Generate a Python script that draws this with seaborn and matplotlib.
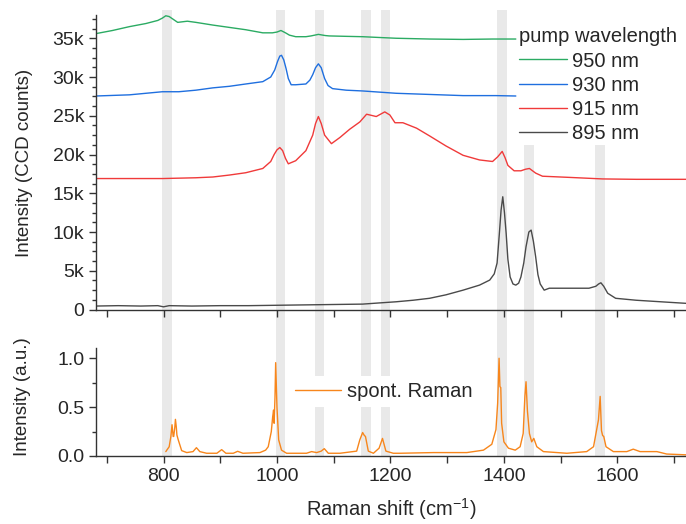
import pandas as pd
import seaborn as sns
import matplotlib.pyplot as plt
from matplotlib.ticker import MultipleLocator, FuncFormatter

# Raman shift (cm-1) / intensity (counts)
x_950 = [681, 710, 740, 769, 790, 798, 804, 810, 818, 825, 842, 857, 887, 916, 945, 975, 992, 1000,
         1007, 1015, 1022, 1033, 1051, 1060, 1073, 1085, 1092, 1120, 1151, 1180, 1210, 1269, 1328, 1380, 1421]
y_950 = [35.6, 36.0, 36.5, 36.9, 37.3, 37.6, 37.9, 37.8, 37.4, 37.05, 37.2, 37.05, 36.7, 36.4, 36.1, 35.7, 35.7, 35.8,
         36.0, 35.7, 35.4, 35.2, 35.2, 35.3, 35.5, 35.35, 35.3, 35.25, 35.2, 35.1, 35.0, 34.9, 34.85, 34.9, 34.9]

x_930 = [681, 740, 798, 827, 857, 887, 916, 945, 975, 989, 996, 1001, 1005, 1008, 1012, 1016, 1020, 1025,
         1033, 1051, 1058, 1063, 1068, 1073, 1078, 1084, 1090, 1098, 1122, 1151, 1210, 1269, 1328, 1386, 1421]
y_930 = [27.55, 27.7, 28.1, 28.1, 28.3, 28.6, 28.8, 29.1, 29.4, 30.0, 30.9, 32.0, 32.7, 32.8, 32.2, 31.1, 29.8, 29.0,
         29.0, 29.1, 29.6, 30.3, 31.2, 31.7, 31.2, 29.8, 28.9, 28.5, 28.3, 28.2, 27.9, 27.75, 27.6, 27.6, 27.55]

x_915 = [681, 740, 798, 857, 887, 916, 945, 975, 989, 995, 1000, 1005, 1010, 1015, 1020, 1033, 1051, 1063,
         1068, 1073, 1078, 1084, 1096, 1111, 1128, 1146, 1158, 1175, 1190, 1199, 1208, 1222, 1246, 1269,
         1298, 1328, 1357, 1380, 1389, 1397, 1402, 1407, 1418, 1430, 1438, 1445, 1456, 1468, 1515, 1574, 1633, 1721]
y_915 = [16.9, 16.9, 16.9, 17.0, 17.1, 17.35, 17.65, 18.2, 19.1, 20.0, 20.6, 20.9, 20.5, 19.5, 18.8, 19.2, 20.5, 22.5,
         24.0, 24.9, 24.0, 22.5, 21.4, 22.2, 23.25, 24.2, 25.2, 24.9, 25.5, 25.1, 24.1, 24.1, 23.4, 22.4,
         21.1, 19.9, 19.3, 19.1, 19.7, 20.4, 19.6, 18.6, 17.9, 17.9, 18.1, 18.2, 17.6, 17.2, 17.05, 16.85, 16.8, 16.8]

x_895 = [681, 720, 760, 790, 800, 810, 850, 900, 950, 1000, 1050, 1100, 1151, 1180, 1210, 1240, 1269, 1298,
         1328, 1357, 1375, 1383, 1388, 1392, 1395, 1398, 1401, 1404, 1407, 1411, 1416, 1421, 1426, 1430,
         1435, 1439, 1444, 1448, 1452, 1456, 1460, 1464, 1471, 1480, 1515, 1550, 1562, 1567, 1571, 1576,
         1583, 1597, 1633, 1692, 1721]
y_895 = [0.45, 0.5, 0.45, 0.5, 0.35, 0.5, 0.45, 0.5, 0.5, 0.55, 0.6, 0.65, 0.7, 0.85, 1.0, 1.2, 1.45, 1.9,
         2.5, 3.15, 3.8, 4.6, 6.0, 9.8, 12.8, 14.55, 12.5, 9.8, 6.5, 4.2, 3.3, 3.15, 3.4, 4.2,
         6.0, 8.1, 10.0, 10.25, 8.8, 6.8, 4.5, 3.3, 2.5, 2.75, 2.75, 2.75, 3.0, 3.3, 3.45, 3.0,
         2.1, 1.45, 1.2, 0.93, 0.8]

x_spont = [804, 810, 813, 815, 817, 818, 820, 821, 822.5, 823.6, 826, 832, 841, 852, 858, 864, 876, 894,
           902.5, 910, 923, 930.7, 940, 970, 980, 984.6, 990, 992.4, 994, 995, 996.5, 997.7, 1000, 1003,
           1008, 1017, 1052, 1061, 1070, 1078, 1083.4, 1090.5, 1111, 1140.5, 1146, 1151, 1154, 1156, 1161,
           1170, 1180, 1186, 1192, 1205, 1217, 1276, 1334.6, 1364, 1378.7, 1386, 1389, 1391.5, 1393, 1394.5,
           1396, 1400, 1408, 1420, 1428.6, 1434, 1437, 1439, 1441.5, 1445, 1449, 1452.7, 1458, 1469.7, 1511,
           1546, 1558, 1566.7, 1569.7, 1572, 1574, 1576, 1580, 1593, 1616.7, 1628, 1640, 1669.7, 1687, 1721]
y_spont = [0.045, 0.095, 0.2, 0.32, 0.2, 0.2, 0.3, 0.375, 0.3, 0.215, 0.165, 0.055, 0.035, 0.045, 0.085, 0.045, 0.028, 0.028,
           0.065, 0.028, 0.028, 0.048, 0.028, 0.035, 0.06, 0.095, 0.25, 0.4, 0.47, 0.335, 0.6, 0.955, 0.5, 0.165,
           0.06, 0.028, 0.028, 0.045, 0.035, 0.05, 0.075, 0.028, 0.028, 0.05, 0.165, 0.24, 0.21, 0.2, 0.05,
           0.028, 0.08, 0.18, 0.05, 0.028, 0.028, 0.035, 0.035, 0.06, 0.12, 0.27, 0.54, 1.0, 0.71, 0.7,
           0.335, 0.145, 0.08, 0.06, 0.095, 0.23, 0.61, 0.76, 0.46, 0.23, 0.145, 0.18, 0.095, 0.045, 0.028,
           0.045, 0.095, 0.37, 0.61, 0.26, 0.21, 0.2, 0.095, 0.045, 0.045, 0.07, 0.045, 0.045, 0.02, 0.012]

# gray marker bands (centre positions, cm-1)
bands = [806, 1006, 1075, 1157, 1191, 1397, 1444, 1569]

labels = ['950 nm', '930 nm', '915 nm', '895 nm']
colors = ['#2bab63', '#1f6fdf', '#f03a3a', '#4a4a4a']

sns.set_style('ticks')
plt.rcParams['font.family'] = ['Liberation Sans', 'DejaVu Sans']
plt.rcParams['mathtext.fontset'] = 'custom'
plt.rcParams['mathtext.rm'] = 'Liberation Sans'
plt.rcParams['axes.edgecolor'] = '#333333'
plt.rcParams['axes.linewidth'] = 1.0

fig = plt.figure(figsize=(6.86, 5.24), dpi=100)
ax1 = fig.add_axes([96 / 686, 214 / 524, 590 / 686, 295 / 524])
ax2 = fig.add_axes([96 / 686, 68 / 524, 590 / 686, 108 / 524])

# one frame per series
series = [(x_950, y_950), (x_930, y_930), (x_915, y_915), (x_895, y_895)]
for (xs, ys), lab, col in zip(series, labels, colors):
    df = pd.DataFrame({'shift': xs, 'counts': [v * 1000 for v in ys]})
    sns.lineplot(data=df, x='shift', y='counts', ax=ax1, color=col, lw=1.0, label=lab)

df_sp = pd.DataFrame({'shift': x_spont, 'intensity': y_spont})
sns.lineplot(data=df_sp, x='shift', y='intensity', ax=ax2, color='#f7861c', lw=1.0, label='spont. Raman')

# bands run through both panels and the gap between them
for c in bands:
    top = 0.559 if c > 1420 else 1.017
    ax1.axvspan(c - 8.5, c + 8.5, ymin=-0.129, ymax=top, color='#e9e9e9', lw=0, zorder=0, clip_on=False)
    ax2.axvspan(c - 8.5, c + 8.5, ymin=0, ymax=1, color='#e9e9e9', lw=0, zorder=0)

for ax in (ax1, ax2):
    ax.set_xlim(681, 1721)
    ax.xaxis.set_major_locator(MultipleLocator(200))
    ax.xaxis.set_minor_locator(MultipleLocator(100))
    ax.tick_params(axis='both', which='major', direction='out', length=5, width=1, labelsize=14, color='#333333')
    ax.tick_params(axis='both', which='minor', direction='out', length=3, width=1, color='#333333')
    ax.tick_params(axis='x', which='minor', length=5)
    sns.despine(ax=ax)
    ax.set_facecolor('none')

ax1.set_ylim(-60, 38000)
ax1.yaxis.set_major_locator(MultipleLocator(5000))
ax1.yaxis.set_minor_locator(MultipleLocator(1250))
ax1.yaxis.set_major_formatter(FuncFormatter(lambda v, p: '0' if v == 0 else f'{int(v / 1000)}k'))
ax1.tick_params(axis='x', labelbottom=False)
ax1.set_xlabel('')
ax1.set_ylabel('Intensity (CCD counts)', fontsize=13.5)
ax1.yaxis.set_label_coords(-0.107, 0.5)

ax2.set_ylim(0, 1.105)
ax2.yaxis.set_major_locator(MultipleLocator(0.5))
ax2.yaxis.set_minor_locator(MultipleLocator(0.25))
ax2.yaxis.set_major_formatter(FuncFormatter(lambda v, p: f'{v:.1f}'))
ax2.set_ylabel('Intensity (a.u.)', fontsize=13.5)
ax2.yaxis.set_label_coords(-0.110, 0.55)
ax2.set_xlabel('Raman shift (cm$^{\\mathregular{-1}}$)', fontsize=14.5, labelpad=8)

leg1 = ax1.legend(title='pump wavelength', loc='upper left', bbox_to_anchor=(0.704, 0.985),
                  frameon=False, fontsize=14.5, title_fontsize=14.5, handlelength=2.35,
                  handletextpad=0.28, labelspacing=0.25, borderaxespad=0, alignment='left')

leg2 = ax2.legend(loc='center left', bbox_to_anchor=(0.327, 0.593), frameon=True, facecolor='white',
                  edgecolor='none', framealpha=1, fontsize=14.5, handlelength=2.3,
                  handletextpad=0.28, borderpad=0.3, borderaxespad=0)
leg2.get_frame().set_boxstyle('square', pad=0)

plt.savefig('out.png', dpi=100)
